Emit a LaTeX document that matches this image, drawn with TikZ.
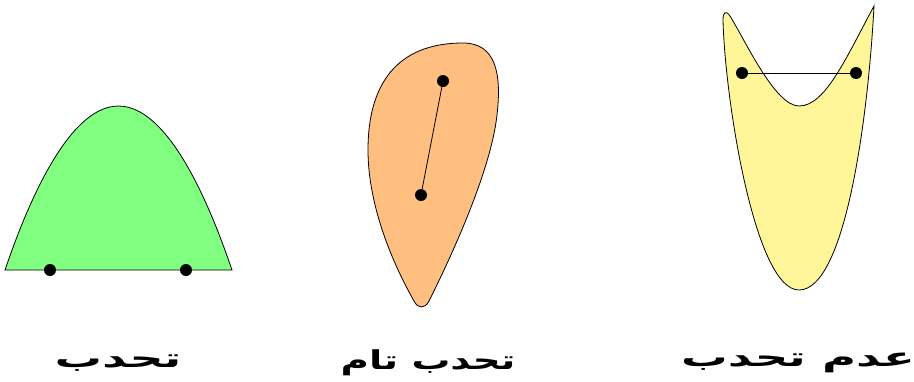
\documentclass[tikz,border=0pt]{standalone}
\usepackage{fontspec}
\newfontfamily\arabicfont[Script=Arabic]{DejaVu Sans}
\TeXXeTstate=1
\definecolor{shgreen}{RGB}{128,255,128}
\definecolor{shorange}{RGB}{255,191,128}
\definecolor{shyellow}{RGB}{255,245,153}
\begin{document}
\begin{tikzpicture}[x=1pt,y=-1pt,
  blob/.style={draw=black,line width=0.8pt},
  dot/.style={circle,fill=black,inner sep=0pt,minimum size=12pt},
  seg/.style={draw=black,line width=0.8pt},
  lbl/.style={font=\arabicfont\bfseries\fontsize{26}{30}\selectfont,inner sep=0pt}]
\useasboundingbox (0,0) rectangle (914,381);
% convex
\filldraw[blob,fill=shgreen] (5,270) parabola bend (118.5,106) (232,270) -- cycle;
\node[dot] (g1) at (50,270) {};
\node[dot] (g2) at (186,270) {};
% strictly convex
\filldraw[blob,fill=shorange] (463,43) .. controls (495,43) and (502,72) .. (497,115)
  .. controls (491,170) and (452,255) .. (429,301)
  .. controls (425,309) and (418,309) .. (414,301)
  .. controls (388,255) and (368,200) .. (368,150)
  .. controls (368,75) and (405,43) .. (463,43) -- cycle;
\node[dot] (o1) at (443,81) {};
\node[dot] (o2) at (421,195) {};
\draw[seg] (o1) -- (o2);
% non-convex
\filldraw[blob,fill=shyellow] (799,290) .. controls (845,290) and (868,120) .. (874,6)
  .. controls (845,60) and (825,106) .. (799,106)
  .. controls (775,106) and (745,40) .. (730,16)
  .. controls (726,10) and (723,12) .. (723,20)
  .. controls (725,100) and (755,290) .. (799,290) -- cycle;
\node[dot] (y1) at (742,73) {};
\node[dot] (y2) at (856,73) {};
\draw[seg] (y1) -- (y2);
% labels
\node[lbl] (l1) at (118,363) {\scalebox{1.82}[1]{\beginR تحدب\endR}};
\node[lbl] (l2) at (428,363) {\scalebox{1.49}[1]{\beginR تحدب تام\endR}};
\node[lbl] (l3) at (798,363) {\scalebox{1.79}[1]{\beginR عدم تحدب\endR}};
\end{tikzpicture}
\end{document}
